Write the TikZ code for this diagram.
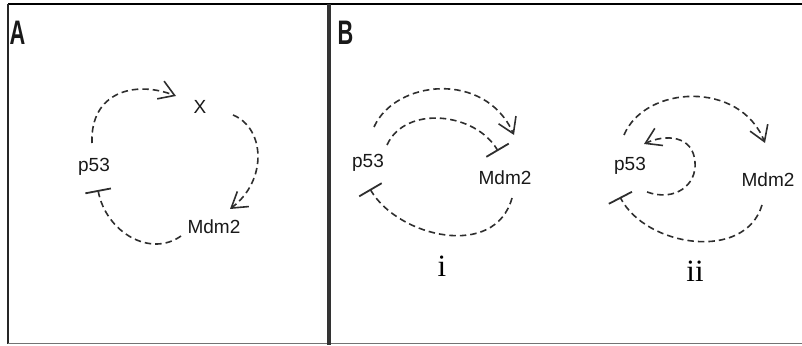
\documentclass[tikz,border=0pt]{standalone}
\usepackage{fontspec}
\setmainfont{Liberation Sans}
\newfontfamily\romanfont{Liberation Serif}
\usetikzlibrary{arrows.meta}
\begin{document}
\begin{tikzpicture}[x=1pt,y=-1pt,
  gene/.style={inner sep=0pt, anchor=base, font=\fontsize{19}{20}\selectfont, text=black!90},
  panel/.style={inner sep=0pt, anchor=base west, font=\fontsize{34}{34}\selectfont\bfseries, text=black!90},
  case/.style={inner sep=0pt, anchor=base, font=\romanfont\fontsize{31}{31}\selectfont, text=black},
  link/.style={draw=black!82, line width=1.6pt, dash pattern=on 6.5pt off 4pt},
  act/.style={link, -{Straight Barb[length=15pt,width=19pt,line width=1.6pt]}},
  inh/.style={link, -{Bar[width=26pt,line width=1.8pt]}},
]
\useasboundingbox (0,0) rectangle (802,345);

% frame and panel divider
\draw[black, line width=1.9pt] (8,4) -- (802,4);
\draw[black!85, line width=1.1pt] (8,4) -- (8,344);
\draw[black!55, line width=1.3pt] (8,343.6) -- (802,343.6);
\draw[black!80, line width=3.2pt] (329,4) -- (329,345);

% panel letters
\node[panel] (labA) at (9.5,45) {\scalebox{0.64}[1]{A}};
\node[panel] (labB) at (337.5,45) {\scalebox{0.64}[1]{B}};

% ---- panel A: p53 -> X -> Mdm2 -| p53
\node[gene] (pA) at (94,171) {p53};
\node[gene] (xA) at (200,113) {X};
\node[gene] (mA) at (214,233) {Mdm2};

\draw[act] ([shift={(-2,-28)}]pA.base) .. controls +(-2,-51) and +(-41,-16) .. ([shift={(-24,-17)}]xA.base);
\draw[act] ([shift={(33,2)}]xA.base) .. controls +(32,13) and +(38,-29) .. ([shift={(16,-24)}]mA.base);
\draw[inh] ([shift={(-33,3)}]mA.base) .. controls +(-31,22) and +(8,42) .. ([shift={(4,19)}]pA.base);

% ---- panel B(i): p53 activates and inhibits Mdm2
\node[gene] (pB) at (368,167) {p53};
\node[gene] (mB) at (505,184) {Mdm2};
\node[case] (capI) at (442,276) {i};

\draw[act] ([shift={(6,-40)}]pB.base) .. controls +(21,-47) and +(-29,-65) .. ([shift={(9,-49)}]mB.base);
\draw[inh] ([shift={(19,-22)}]pB.base) .. controls +(18,-40) and +(-23,-39) .. ([shift={(-7,-33)}]mB.base);
\draw[inh] ([shift={(7,14)}]mB.base) .. controls +(-17,62) and +(28,48) .. ([shift={(2,22)}]pB.base);

% ---- panel B(ii): p53 activates itself and Mdm2
\node[gene] (pC) at (630,170) {p53};
\node[gene] (mC) at (768,186) {Mdm2};
\node[case] (capII) at (695,281) {ii};

\draw[act] ([shift={(-6,-35)}]pC.base) .. controls +(21,-50) and +(-25,-63) .. ([shift={(-3,-43)}]mC.base);
\draw[act] ([shift={(17,22)}]pC.base) .. controls +(28,10) and +(2,23) .. ([shift={(65,-8)}]pC.base)
  .. controls +(-2,-27) and +(21,-10) .. ([shift={(14,-26)}]pC.base);
\draw[inh] ([shift={(-6,19)}]mC.base) .. controls +(-17,57) and +(26,50) .. ([shift={(-10,27)}]pC.base);
\end{tikzpicture}
\end{document}
